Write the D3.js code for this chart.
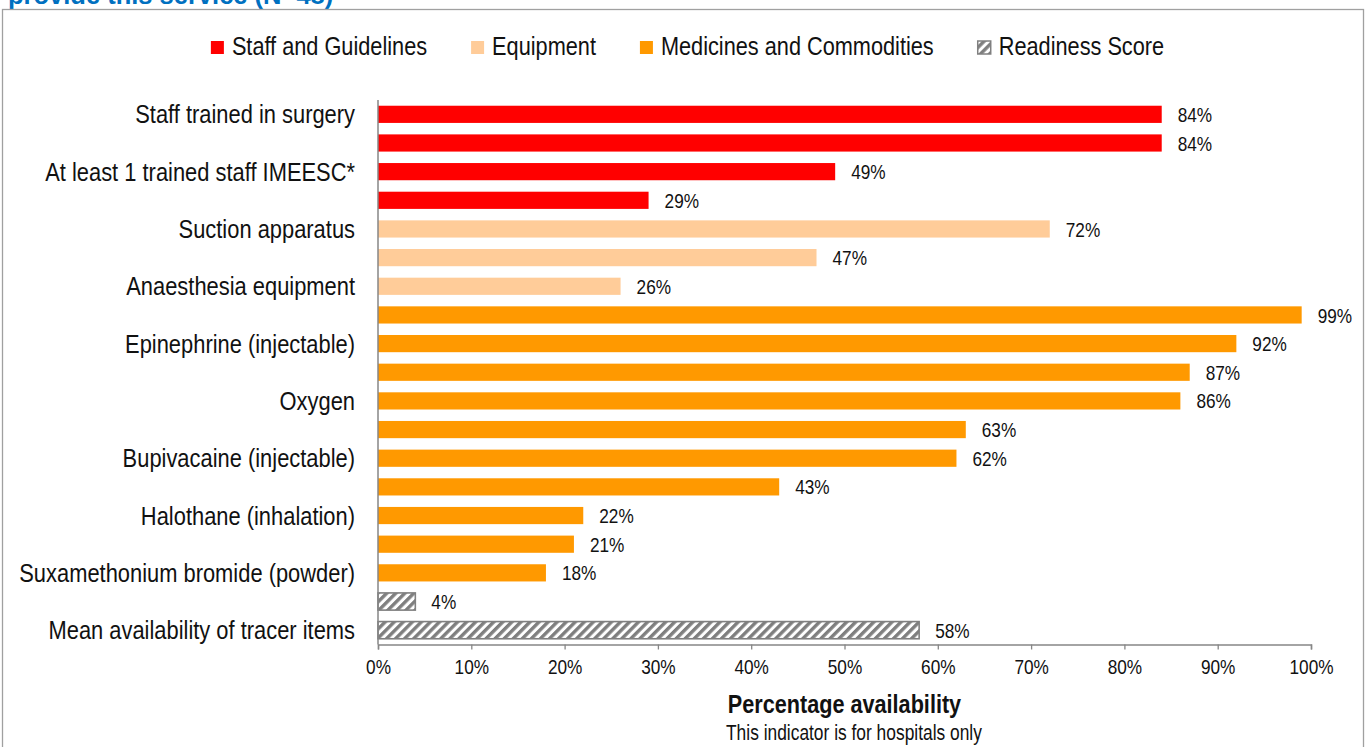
<!DOCTYPE html>
<html>
<head>
<meta charset="utf-8">
<script src="https://cdn.jsdelivr.net/npm/d3@7"></script>
<style>
  html, body { margin: 0; padding: 0; background: #fff; }
  svg { display: block; }
  text { font-family: "Liberation Sans", Arial, sans-serif; fill: #111; }
</style>
</head>
<body>
<svg id="chart" width="1371" height="747"></svg>
<script>
// Tracer items for the surgical service, one bar per item (only every other axis label is printed)
const itemLabels = [
  "Staff trained in surgery", "",
  "At least 1 trained staff IMEESC*", "",
  "Suction apparatus", "",
  "Anaesthesia equipment", "",
  "Epinephrine (injectable)", "",
  "Oxygen", "",
  "Bupivacaine (injectable)", "",
  "Halothane (inhalation)", "",
  "Suxamethonium bromide (powder)", "",
  "Mean availability of tracer items"
];
const availability = [84, 84, 49, 29, 72, 47, 26, 99, 92, 87, 86, 63, 62, 43, 22, 21, 18, 4, 58];
const itemGroup = [
  "Staff and Guidelines", "Staff and Guidelines", "Staff and Guidelines", "Staff and Guidelines",
  "Equipment", "Equipment", "Equipment",
  "Medicines and Commodities", "Medicines and Commodities", "Medicines and Commodities",
  "Medicines and Commodities", "Medicines and Commodities", "Medicines and Commodities",
  "Medicines and Commodities", "Medicines and Commodities", "Medicines and Commodities",
  "Medicines and Commodities",
  "Readiness Score", "Readiness Score"
];
const groupNames = ["Staff and Guidelines", "Equipment", "Medicines and Commodities", "Readiness Score"];
const groupFills = ["#FF0000", "#FFCC99", "#FF9900", "url(#hatch)"];
const xTickValues = [0, 10, 20, 30, 40, 50, 60, 70, 80, 90, 100];

const titleText = "provide this service (N=48)";
const axisTitle = "Percentage availability";
const axisNote = "This indicator is for hospitals only";

const svg = d3.select("#chart");
const plot = { left: 378, right: 1311, top: 100, bottom: 644.5 };
const NARROW = 0.82; // horizontal squeeze giving a condensed sans face

// Condense text horizontally: move x/y into a transform and scale x only.
function condense(sel) {
  sel.each(function () {
    const t = d3.select(this);
    const x = +t.attr("x") || 0;
    const y = +t.attr("y") || 0;
    t.attr("x", null).attr("y", null)
     .attr("transform", `translate(${x},${y}) scale(${NARROW},1)`);
  });
  return sel;
}

// diagonal hatch used for the readiness score
const defs = svg.append("defs");
const pat = defs.append("pattern")
  .attr("id", "hatch")
  .attr("patternUnits", "userSpaceOnUse")
  .attr("width", 6.4).attr("height", 6.4)
  .attr("patternTransform", "rotate(45)");
pat.append("rect").attr("width", 6.4).attr("height", 6.4).attr("fill", "#fff");
pat.append("rect").attr("width", 3.4).attr("height", 6.4).attr("fill", "#7F7F7F");

// figure title (runs off the top edge)
svg.append("text")
  .attr("x", 8).attr("y", 4)
  .style("font-weight", "bold")
  .style("font-size", "25.5px")
  .style("fill", "#0070C0")
  .text(titleText);

// chart frame
svg.append("rect")
  .attr("x", 2.5).attr("y", 9.5)
  .attr("width", 1361).attr("height", 760)
  .attr("fill", "none")
  .attr("stroke", "#A0A0A0")
  .attr("stroke-width", 1.3);

const color = d3.scaleOrdinal().domain(groupNames).range(groupFills);

const x = d3.scaleLinear().domain([0, 100]).range([plot.left, plot.right]);
const y = d3.scaleBand()
  .domain(d3.range(availability.length))
  .range([plot.top, plot.bottom])
  .paddingInner(0.4)
  .paddingOuter(0.2);

// bars
svg.append("g").selectAll("rect")
  .data(availability)
  .join("rect")
  .attr("x", x(0))
  .attr("y", (d, i) => y(i))
  .attr("width", d => x(d) - x(0))
  .attr("height", y.bandwidth())
  .attr("fill", (d, i) => color(itemGroup[i]))
  .attr("stroke", (d, i) => itemGroup[i] === "Readiness Score" ? "#808080" : "none")
  .attr("stroke-width", 1.6);

// value labels
condense(svg.append("g").selectAll("text")
  .data(availability)
  .join("text")
  .attr("x", d => x(d) + 16)
  .attr("y", (d, i) => y(i) + y.bandwidth() / 2)
  .attr("dy", "0.36em")
  .style("font-size", "21px")
  .text(d => d + "%"));

// x axis
const xAxis = svg.append("g")
  .attr("transform", `translate(0,${plot.bottom})`)
  .call(d3.axisBottom(x).tickValues(xTickValues).tickSize(5).tickPadding(10).tickFormat(d => d + "%"));
xAxis.select(".domain").attr("stroke", "#868686").attr("stroke-width", 1.5);
xAxis.selectAll(".tick line").attr("stroke", "#868686").attr("stroke-width", 1.3);
condense(xAxis.selectAll(".tick text")
  .style("font-family", "'Liberation Sans', Arial, sans-serif")
  .style("font-size", "21px").attr("fill", "#111"));

// y axis (category labels on alternate bars)
const yAxis = svg.append("g")
  .attr("transform", `translate(${plot.left},0)`)
  .call(d3.axisLeft(y).tickSize(0).tickPadding(23).tickFormat(i => itemLabels[i]));
yAxis.select(".domain").attr("stroke", "#868686").attr("stroke-width", 1.5)
  .attr("d", `M0,${plot.top}V${plot.bottom}`);
condense(yAxis.selectAll(".tick text")
  .style("font-family", "'Liberation Sans', Arial, sans-serif")
  .style("font-size", "26.7px").attr("fill", "#111")
  .attr("dy", "0.34em"));

// axis titles
condense(svg.append("text")
  .attr("x", (plot.left + plot.right) / 2).attr("y", 713)
  .attr("text-anchor", "middle")
  .style("font-size", "26.4px").style("font-weight", "bold")
  .text(axisTitle));
condense(svg.append("text")
  .attr("x", 726).attr("y", 740)
  .style("font-size", "21.2px")
  .text(axisNote));

// legend, laid out from measured label widths
const legend = svg.append("g");
const items = legend.selectAll("g").data(groupNames).join("g");
items.append("rect")
  .attr("width", 13).attr("height", 13)
  .attr("y", 41)
  .attr("fill", d => color(d))
  .attr("stroke", d => d === "Readiness Score" ? "#808080" : "none")
  .attr("stroke-width", 1.5);
condense(items.append("text")
  .attr("x", 21).attr("y", 55)
  .style("font-size", "26.5px")
  .text(d => d));
const gap = 44;
const widths = [];
items.each(function () {
  widths.push(21 + NARROW * this.querySelector("text").getComputedTextLength());
});
const total = d3.sum(widths) + gap * (widths.length - 1);
let cx = 687.5 - total / 2;
items.attr("transform", (d, i) => {
  const t = `translate(${cx},0)`;
  cx += widths[i] + gap;
  return t;
});
</script>
</body>
</html>
